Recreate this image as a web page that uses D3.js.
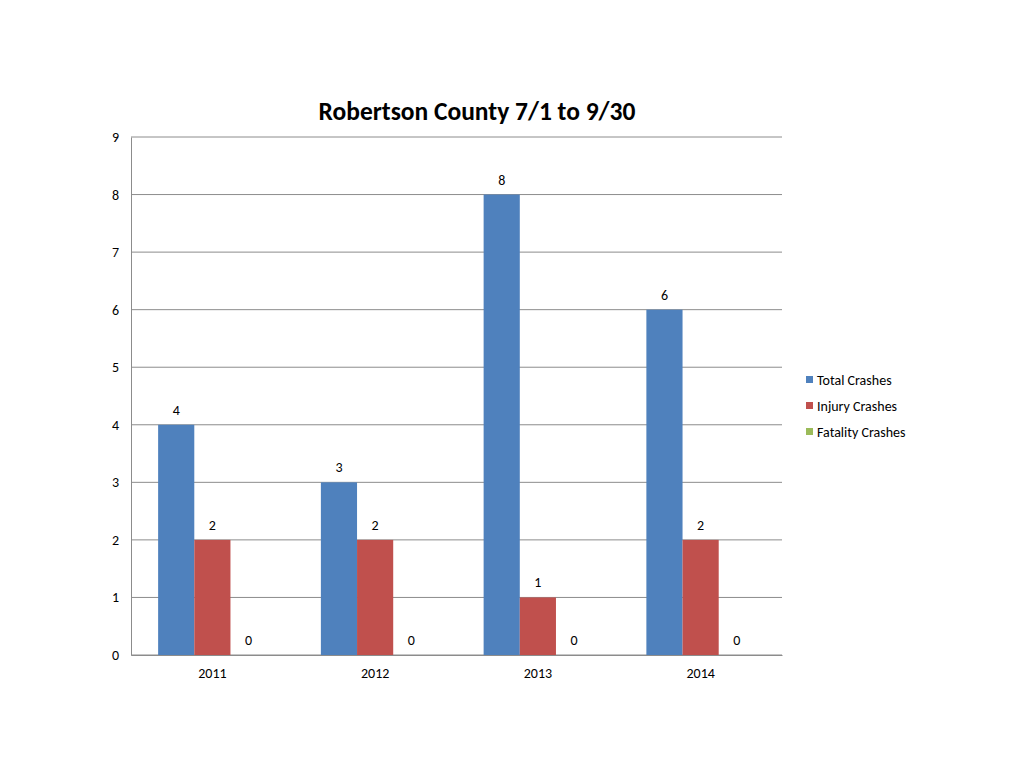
<!DOCTYPE html>
<html><head><meta charset="utf-8">
<script src="https://cdn.jsdelivr.net/npm/d3@7"></script>
<style>body{margin:0;background:#fff;} svg{display:block;} text{font-family:Carlito,Calibri,Lato,"Open Sans",sans-serif;}</style>
</head><body>
<svg id="c" width="1024" height="768"></svg>
<script>
const categories = ["2011","2012","2013","2014"];
const seriesNames = ["Total Crashes","Injury Crashes","Fatality Crashes"];
const totalCrashes = [4,3,8,6];
const injuryCrashes = [2,2,1,2];
const fatalityCrashes = [0,0,0,0];
const colors = ["#4F81BD","#C0504D","#9BBB59"];
const yTicks = [0,1,2,3,4,5,6,7,8,9];
const title = "Robertson County 7/1 to 9/30";

const seriesVals = [totalCrashes, injuryCrashes, fatalityCrashes];
const svg = d3.select("#c");
const L=131, R=782, T=137, B=655;
const x = d3.scaleBand().domain(categories).range([L,R]).paddingInner(0).paddingOuter(0);
const y = d3.scaleLinear().domain([0,9]).range([B,T]);
const gw = x.bandwidth();
const bw = gw/4.5;
const xs = d3.scaleBand().domain(seriesNames).range([bw*0.75, gw-bw*0.75]).padding(0);
const FS = 14;

// grid
svg.append("g").selectAll("line").data(yTicks).join("line")
  .attr("x1",L).attr("x2",R).attr("y1",d=>y(d)).attr("y2",d=>y(d))
  .attr("stroke","#8c8c8c").attr("stroke-width",1);
// y axis
const ya = d3.axisLeft(y).tickValues(yTicks).tickSize(0).tickPadding(12);
const yg = svg.append("g").attr("transform",`translate(${L},0)`).call(ya);
yg.select(".domain").attr("stroke","#8c8c8c");
yg.selectAll("text").attr("font-size",FS).attr("fill","#000");
// x axis
const xa = d3.axisBottom(x).tickSize(0).tickPadding(13);
const xg = svg.append("g").attr("transform",`translate(0,${B})`).call(xa);
xg.select(".domain").attr("stroke","#8c8c8c");
xg.selectAll("text").attr("font-size",FS).attr("fill","#000");

const data = [];
categories.forEach((c,i)=>seriesNames.forEach((s,j)=>data.push({c,s,v:seriesVals[j][i],j})));
const bars = svg.append("g");
bars.selectAll("rect").data(data).join("rect")
  .attr("x",d=>x(d.c)+xs(d.s)).attr("width",xs.bandwidth())
  .attr("y",d=>y(d.v)).attr("height",d=>B-y(d.v))
  .attr("fill",d=>colors[d.j]);
bars.selectAll("text").data(data).join("text")
  .attr("x",d=>x(d.c)+xs(d.s)+xs.bandwidth()/2).attr("y",d=>y(d.v)-10)
  .attr("text-anchor","middle").attr("font-size",FS).attr("fill","#000").text(d=>d.v);

svg.append("text").attr("x",477).attr("y",120).attr("text-anchor","middle")
  .attr("font-size",25.5).attr("font-weight","bold").attr("fill","#000").text(title);

const lg = svg.append("g");
seriesNames.forEach((s,i)=>{
  lg.append("rect").attr("x",806).attr("y",376+i*26).attr("width",7).attr("height",7).attr("fill",colors[i]);
  lg.append("text").attr("x",817).attr("y",385+i*26).attr("font-size",FS).attr("fill","#000").text(s);
});
</script>
</body></html>
